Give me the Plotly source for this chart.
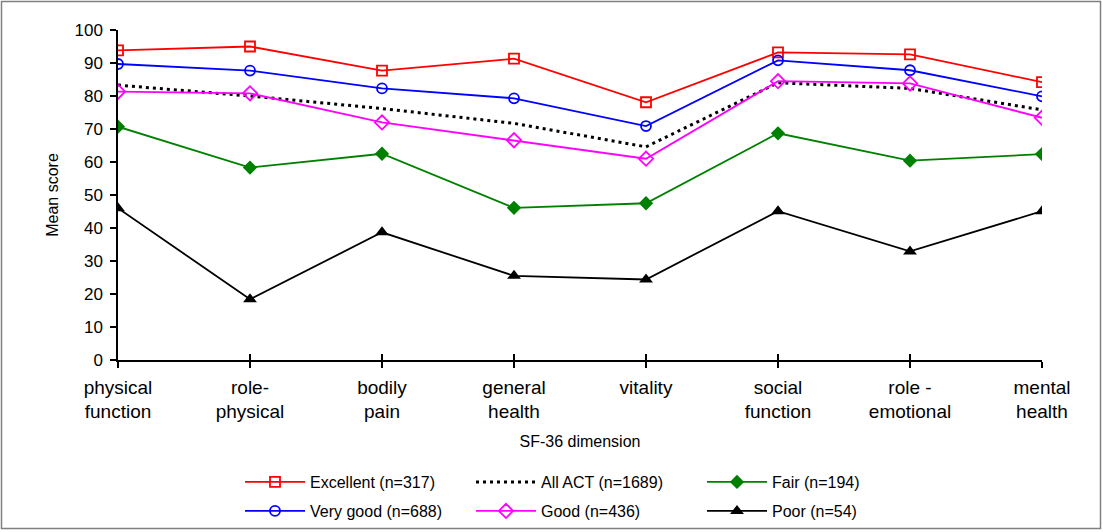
import plotly.graph_objects as go

categories = ["physical<br>function", "role-<br>physical", "bodily<br>pain", "general<br>health",
              "vitality", "social<br>function", "role -<br>emotional", "mental<br>health"]

excellent = [93.8, 95.0, 87.7, 91.3, 78.1, 93.2, 92.6, 84.2]
very_good = [89.7, 87.7, 82.3, 79.3, 70.9, 90.8, 87.8, 79.9]
all_act = [83.3, 80.0, 76.2, 71.7, 64.6, 84.0, 82.3, 75.8]
good = [81.3, 80.8, 72.0, 66.6, 61.0, 84.5, 83.8, 73.4]
fair = [70.7, 58.3, 62.5, 46.1, 47.5, 68.7, 60.4, 62.4]
poor = [46.0, 18.4, 38.7, 25.5, 24.4, 45.1, 32.9, 45.1]

series_names = ["Excellent (n=317)", "All ACT (n=1689)", "Fair (n=194)",
                "Very good (n=688)", "Good (n=436)", "Poor (n=54)"]

x = list(range(len(categories)))
fig = go.Figure()

def add(name, vals, color, legend, symbol=None, dash="solid", width=1.8, msize=9, mline=None):
    mode = "lines+markers" if symbol else "lines"
    marker = dict(symbol=symbol, size=msize, color=color,
                  line=dict(color=color, width=mline if mline is not None else 0)) if symbol else None
    fig.add_trace(go.Scatter(x=x, y=vals, name=name, mode=mode, legend=legend,
                             line=dict(color=color, width=width, dash=dash),
                             marker=marker))

add(series_names[0], excellent, "#FF0000", "legend", "square-open", msize=10, mline=1.8)
add(series_names[1], all_act, "#000000", "legend", None, dash="3px,4px", width=3)
add(series_names[2], fair, "#008000", "legend", "diamond", msize=11)
add(series_names[3], very_good, "#0000FF", "legend2", "circle-open", msize=10, mline=1.8)
add(series_names[4], good, "#FF00FF", "legend2", "diamond-open", msize=11, mline=1.8)
add(series_names[5], poor, "#000000", "legend2", "triangle-up", msize=12)

L, R, T, B = 118, 1042, 30, 360
W, H = 1103, 532
pw, ph = R - L, B - T

leg_common = dict(orientation="h", xanchor="left", yanchor="top",
                  entrywidth=156, entrywidthmode="pixels", itemwidth=60,
                  font=dict(size=16), bgcolor="rgba(0,0,0,0)", x=(240 - L) / pw)

fig.update_layout(
    width=W, height=H,
    margin=dict(l=L, r=W - R, t=T, b=H - B, autoexpand=False),
    paper_bgcolor="white", plot_bgcolor="white",
    font=dict(family="Liberation Sans, Arial, sans-serif", size=16, color="black"),
    showlegend=True,
    legend=dict(leg_common, y=(B - 465) / ph),
    legend2=dict(leg_common, y=(B - 494) / ph),
    xaxis=dict(tickmode="array", tickvals=x, ticktext=categories, range=[0, 7],
               showgrid=False, zeroline=False, showline=True, linecolor="black", linewidth=1.5,
               ticks="outside", ticklen=6, tickwidth=1.5, tickcolor="black",
               tickfont=dict(size=19), ticklabelstandoff=3,
               title=dict(text="SF-36 dimension", standoff=15, font=dict(size=16))),
    yaxis=dict(range=[0, 100], dtick=10, tick0=0, showgrid=False, zeroline=False,
               showline=True, linecolor="black", linewidth=1.5,
               ticks="outside", ticklen=6, tickwidth=1.5, tickcolor="black",
               tickfont=dict(size=17), ticklabelstandoff=4,
               title=dict(text="Mean score", standoff=12, font=dict(size=16))),
    xaxis2=dict(overlaying="x", matches="x", range=[0, 7], tickmode="array", tickvals=x,
                showticklabels=False, ticks="inside", ticklen=6, tickwidth=1.5, tickcolor="black",
                showgrid=False, zeroline=False, showline=False, side="bottom", anchor="y"),
)

# invisible trace on xaxis2 so the axis is drawn
fig.add_trace(go.Scatter(x=[0], y=[0], xaxis="x2", mode="markers",
                         marker=dict(opacity=0), showlegend=False, hoverinfo="skip"))

# outer border
fig.add_shape(type="rect", xref="paper", yref="paper",
              x0=(1.5 - L) / pw, x1=(1100.5 - L) / pw,
              y0=(B - 528.5) / ph, y1=(B - 1.5) / ph,
              line=dict(color="#808080", width=1.5), fillcolor="rgba(0,0,0,0)", layer="below")

fig.write_html("out.html", config={"displayModeBar": False},
               post_script="document.body.style.margin='0px';document.body.style.overflow='hidden';")
